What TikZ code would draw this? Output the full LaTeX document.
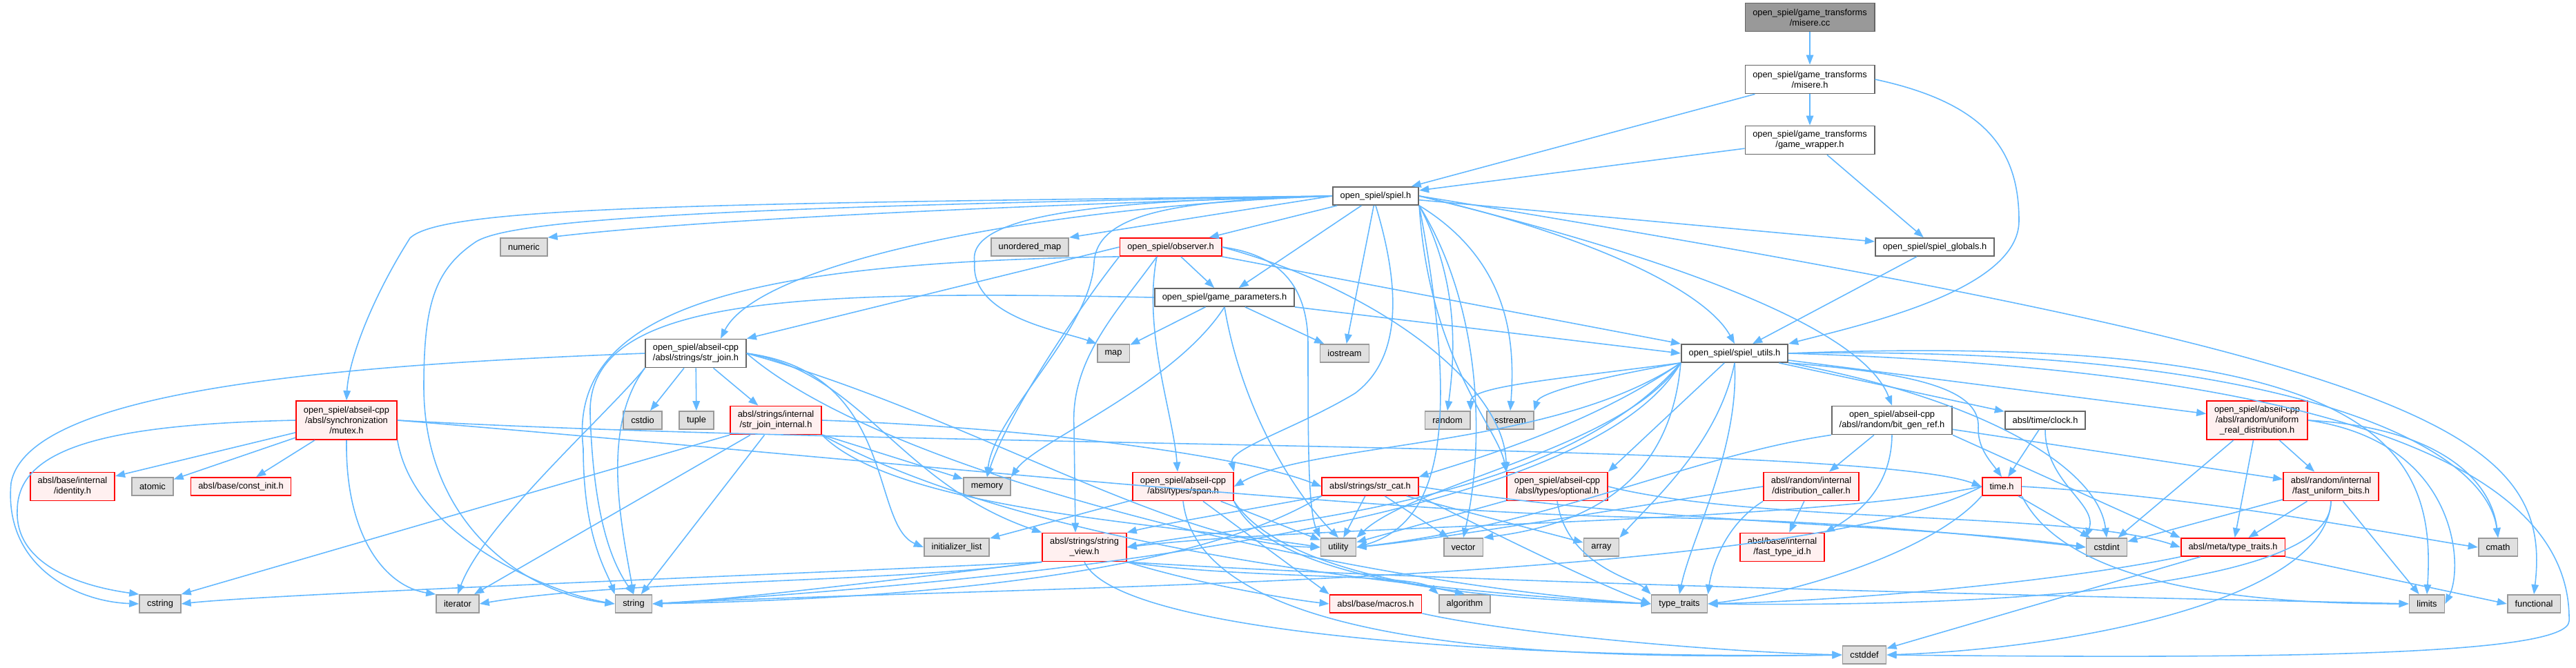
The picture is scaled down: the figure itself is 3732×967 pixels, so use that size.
\documentclass[tikz,border=0pt]{standalone}
\usepackage{fontspec}
\setmainfont{Liberation Sans}
\usetikzlibrary{positioning, arrows.meta}
\definecolor{edgeblue}{HTML}{63B8FF}
\definecolor{badfill}{HTML}{FFF0F0}
\definecolor{sysfill}{HTML}{E0E0E0}
\definecolor{sysdraw}{HTML}{999999}
\definecolor{filedraw}{HTML}{666666}

\begin{document}
\begin{tikzpicture}[
        x=0.02cm, y=-0.02cm,
        file/.style={
            rectangle,
            draw=filedraw,
            fill=white,
            line width=1pt,
            align=center,
            font=\fontsize{7.3}{8.5}\selectfont,
            inner xsep=6.2pt,
            inner ysep=1pt,
            minimum height=0.52cm
        },
        bad/.style={file, draw=red, fill=badfill},
        sys/.style={file, draw=sysdraw, fill=sysfill},
        root/.style={file, fill=sysdraw},
        two/.style={minimum height=0.82cm},
        three/.style={minimum height=1.12cm},
        arrow/.style={
            -{Triangle[length=8pt,width=6pt]},
            line width=0.9pt,
            draw=edgeblue
        }
    ]
        \useasboundingbox (0,0) rectangle (3732,967);

        \node [root, two] (misere_cc) at (2622,25) {open\_spiel/game\_transforms\\/misere.cc};
        \node [file, two] (misere_h) at (2622,115) {open\_spiel/game\_transforms\\/misere.h};
        \node [file, two] (game_wrapper_h) at (2622,203) {open\_spiel/game\_transforms\\/game\_wrapper.h};
        \node [file] (spiel_h) at (1993,284) {open\_spiel/spiel.h};
        \node [sys] (numeric) at (759,358) {numeric};
        \node [sys] (unordered_map) at (1492,358) {unordered\_map};
        \node [bad] (observer_h) at (1696,358) {open\_spiel/observer.h};
        \node [file] (spiel_globals_h) at (2803,358) {open\_spiel/spiel\_globals.h};
        \node [file] (game_parameters_h) at (1774,431) {open\_spiel/game\_parameters.h};
        \node [sys] (map) at (1613,512) {map};
        \node [sys] (iostream) at (1948,512) {iostream};
        \node [file, two] (str_join_h) at (1008,512) {open\_spiel/abseil-cpp\\/absl/strings/str\_join.h};
        \node [file] (spiel_utils_h) at (2513,512) {open\_spiel/spiel\_utils.h};
        \node [bad, three] (mutex_h) at (502,609) {open\_spiel/abseil-cpp\\/absl/synchronization\\/mutex.h};
        \node [sys] (cstdio) at (931,609) {cstdio};
        \node [sys] (tuple) at (1009,609) {tuple};
        \node [bad, two] (str_join_internal_h) at (1124,609) {absl/strings/internal\\/str\_join\_internal.h};
        \node [sys] (random) at (2097,609) {random};
        \node [sys] (sstream) at (2188,609) {sstream};
        \node [file, two] (bit_gen_ref_h) at (2741,609) {open\_spiel/abseil-cpp\\/absl/random/bit\_gen\_ref.h};
        \node [file] (clock_h) at (2963,609) {absl/time/clock.h};
        \node [bad, three] (uniform_real_h) at (3270,609) {open\_spiel/abseil-cpp\\/absl/random/uniform\\ \_real\_distribution.h};
        \node [bad, two] (identity_h) at (105,705) {absl/base/internal\\/identity.h};
        \node [sys] (atomic) at (221,705) {atomic};
        \node [bad] (const_init_h) at (349,705) {absl/base/const\_init.h};
        \node [sys] (memory) at (1430,705) {memory};
        \node [bad, two] (span_h) at (1714,705) {open\_spiel/abseil-cpp\\/absl/types/span.h};
        \node [bad] (str_cat_h) at (1985,705) {absl/strings/str\_cat.h};
        \node [bad, two] (optional_h) at (2256,705) {open\_spiel/abseil-cpp\\/absl/types/optional.h};
        \node [bad, two] (distribution_caller_h) at (2624,705) {absl/random/internal\\/distribution\_caller.h};
        \node [bad] (time_h) at (2900,705) {time.h};
        \node [bad, two] (fast_uniform_bits_h) at (3377,705) {absl/random/internal\\/fast\_uniform\_bits.h};
        \node [sys] (initializer_list) at (1386,793) {initializer\_list};
        \node [bad, two] (string_view_h) at (1571,793) {absl/strings/string\\ \_view.h};
        \node [sys] (utility) at (1939,793) {utility};
        \node [sys] (vector) at (2120,793) {vector};
        \node [sys] (array) at (2320,793) {array};
        \node [bad, two] (fast_type_id_h) at (2582,793) {absl/base/internal\\/fast\_type\_id.h};
        \node [sys] (cstdint) at (3052,793) {cstdint};
        \node [bad] (meta_type_traits_h) at (3235,793) {absl/meta/type\_traits.h};
        \node [sys] (cmath) at (3619,793) {cmath};
        \node [sys] (cstring) at (232,875) {cstring};
        \node [sys] (iterator) at (663,875) {iterator};
        \node [sys] (string) at (918,875) {string};
        \node [bad] (macros_h) at (1993,875) {absl/base/macros.h};
        \node [sys] (algorithm) at (2122,875) {algorithm};
        \node [sys] (type_traits) at (2433,875) {type\_traits};
        \node [sys] (limits) at (3516,875) {limits};
        \node [sys] (functional) at (3671,875) {functional};
        \node [sys] (cstddef) at (2701,949) {cstddef};

        \draw [arrow] (misere_cc) -- (misere_h);
        \draw [arrow] (misere_h) -- (game_wrapper_h);
        \draw [arrow] (misere_h) -- (spiel_h);
        \draw [arrow] (misere_h.east) .. controls (2880,150) and (2925,220) .. (2925,320) .. controls (2925,420) and (2700,470) .. (spiel_utils_h.north east);
        \draw [arrow] (game_wrapper_h) -- (spiel_h);
        \draw [arrow] (game_wrapper_h) -- (spiel_globals_h);
        \draw [arrow] (spiel_globals_h) -- (spiel_utils_h);

        \draw [arrow] (spiel_h.west) .. controls (1400,300) and (1000,320) .. (numeric.north east);
        \draw [arrow] (spiel_h.west) -- (unordered_map.north east);
        \draw [arrow] (spiel_h) -- (observer_h);
        \draw [arrow] (spiel_h) -- (game_parameters_h);
        \draw [arrow] (spiel_h.west) .. controls (1600,290) and (1400,310) .. (1412,380) .. controls (1405,460) and (1540,480) .. (map.north west);
        \draw [arrow] (spiel_h) -- (iostream);
        \draw [arrow] (spiel_h.south east) .. controls (2110,400) and (2110,500) .. (random.north);
        \draw [arrow] (spiel_h.south east) .. controls (2190,380) and (2195,500) .. (sstream.north);
        \draw [arrow] (spiel_h) -- (spiel_globals_h);
        \draw [arrow] (spiel_h.east) .. controls (2300,340) and (2470,420) .. (spiel_utils_h.north);
        \draw [arrow] (spiel_h.east) .. controls (2450,380) and (2700,480) .. (bit_gen_ref_h.north);
        \draw [arrow] (spiel_h.east) .. controls (3500,520) and (3700,620) .. (functional.north);
        \draw [arrow] (spiel_h.west) .. controls (1500,300) and (1100,380) .. ([xshift=0.72cm]str_join_h.north);
        \draw [arrow] (spiel_h.west) .. controls (1000,295) and (640,300) .. (594,345) .. controls (540,430) and (505,520) .. (mutex_h.north);
        \draw [arrow] (spiel_h.west) .. controls (1000,300) and (740,320) .. (690,350) .. controls (630,390) and (614,440) .. (614,560) .. controls (614,760) and (760,860) .. (string.west);
        \draw [arrow] (spiel_h.west) .. controls (1700,290) and (1590,310) .. (1585,380) .. controls (1580,480) and (1440,600) .. (memory.north);
        \draw [arrow] (spiel_h.south) .. controls (2030,420) and (2030,520) .. (1963,570) .. controls (1880,620) and (1780,650) .. (span_h.north east);
        \draw [arrow] (spiel_h.south east) .. controls (2070,520) and (2170,620) .. (optional_h.north west);
        \draw [arrow] (spiel_h.south east) .. controls (2120,640) and (2080,760) .. (utility.east);
        \draw [arrow] (spiel_h.south east) .. controls (2150,450) and (2150,650) .. (vector.north);

        \draw [arrow] (observer_h) -- (game_parameters_h);
        \draw [arrow] (observer_h.south east) -- (spiel_utils_h.north west);
        \draw [arrow] (observer_h.west) -- (str_join_h.north east);
        \draw [arrow] (observer_h.south west) .. controls (1560,450) and (1460,600) .. (memory.north);
        \draw [arrow] ([xshift=-0.4cm]observer_h.south) .. controls (1620,450) and (1550,520) .. (1556,620) -- ([xshift=-0.26cm]string_view_h.north);
        \draw [arrow] ([xshift=-0.4cm]observer_h.south) .. controls (1655,480) and (1700,600) .. ([xshift=-0.16cm]span_h.north);
        \draw [arrow] (observer_h.east) .. controls (1860,370) and (1895,420) .. (1895,500) .. controls (1895,640) and (1895,740) .. (utility.north west);
        \draw [arrow] (observer_h.east) .. controls (2000,420) and (2180,560) .. (optional_h.north west);
        \draw [arrow] (observer_h.south west) .. controls (1100,380) and (820,440) .. (845,650) .. controls (845,780) and (880,830) .. (string.north west);

        \draw [arrow] (game_parameters_h) -- (map);
        \draw [arrow] (game_parameters_h) -- (iostream);
        \draw [arrow] (game_parameters_h.south east) -- (spiel_utils_h.west);
        \draw [arrow] (game_parameters_h.south) .. controls (1700,560) and (1500,640) .. (memory.north east);
        \draw [arrow] (game_parameters_h.west) .. controls (1150,420) and (850,430) .. (855,600) .. controls (860,760) and (890,820) .. (string.north);
        \draw [arrow] (game_parameters_h.south) .. controls (1800,600) and (1880,720) .. (utility.north);

        \draw [arrow] (str_join_h) -- (cstdio);
        \draw [arrow] (str_join_h) -- (tuple);
        \draw [arrow] (str_join_h) -- (str_join_internal_h);
        \draw [arrow] (str_join_h.west) .. controls (450,530) and (40,570) .. (16,700) .. controls (5,820) and (110,872) .. (cstring.west);
        \draw [arrow] (str_join_h.south west) .. controls (880,600) and (700,760) .. (iterator.north);
        \draw [arrow] (str_join_h.south west) .. controls (870,620) and (900,760) .. (string.north);
        \draw [arrow] (str_join_h.east) .. controls (1300,540) and (1260,760) .. (initializer_list.west);
        \draw [arrow] (str_join_h.east) .. controls (1400,600) and (1700,790) .. (utility.west);
        \draw [arrow] (str_join_h.east) .. controls (1300,700) and (2000,850) .. (type_traits.west);
        \draw [arrow] (str_join_h.east) .. controls (1250,540) and (1300,700) .. (string_view_h.north west);

        \draw [arrow] (mutex_h) -- (identity_h);
        \draw [arrow] (mutex_h) -- (atomic);
        \draw [arrow] (mutex_h) -- (const_init_h);
        \draw [arrow] (mutex_h.west) .. controls (150,615) and (25,650) .. (25,740) .. controls (22,820) and (120,850) .. (cstring.north west);
        \draw [arrow] (mutex_h.south) .. controls (500,780) and (560,850) .. (iterator.north west);
        \draw [arrow] (mutex_h.south east) .. controls (600,780) and (800,860) .. (string.west);
        \draw [arrow] (mutex_h.east) .. controls (1300,650) and (2700,640) .. (time_h.west);
        \draw [arrow] (mutex_h.east) .. controls (1200,660) and (2000,745) .. (2400,750) .. controls (2700,755) and (2900,780) .. (cstdint.west);

        \draw [arrow] (str_join_internal_h.south west) -- (cstring.north east);
        \draw [arrow] (str_join_internal_h) -- (iterator);
        \draw [arrow] (str_join_internal_h) -- (string);
        \draw [arrow] (str_join_internal_h) -- (memory);
        \draw [arrow] (str_join_internal_h.east) .. controls (1500,620) and (1800,660) .. (str_cat_h.west);
        \draw [arrow] (str_join_internal_h.south east) .. controls (1300,740) and (1700,760) .. (utility.west);
        \draw [arrow] (str_join_internal_h.south east) .. controls (1500,800) and (2100,860) .. (type_traits.west);

        \draw [arrow] (spiel_utils_h.south west) .. controls (2250,550) and (2130,560) .. (random.north east);
        \draw [arrow] (spiel_utils_h.south west) .. controls (2300,550) and (2230,570) .. (sstream.north east);
        \draw [arrow] (spiel_utils_h.south west) .. controls (2300,620) and (2120,670) .. (str_cat_h.north east);
        \draw [arrow] (spiel_utils_h.south west) .. controls (2250,650) and (1900,640) .. (span_h.east);
        \draw [arrow] (spiel_utils_h) -- (optional_h.north east);
        \draw [arrow] (spiel_utils_h.south east) .. controls (2760,540) and (2870,560) .. (2866,620) .. controls (2865,650) and (2885,670) .. (time_h.north);
        \draw [arrow] (spiel_utils_h) -- (clock_h);
        \draw [arrow] (spiel_utils_h) -- (uniform_real_h);
        \draw [arrow] (spiel_utils_h.south east) .. controls (2880,580) and (3040,680) .. (cstdint.north);
        \draw [arrow] (spiel_utils_h.east) .. controls (3300,500) and (3600,640) .. (cmath.north);
        \draw [arrow] (spiel_utils_h.east) .. controls (3450,480) and (3530,650) .. (limits.north);
        \draw [arrow] (spiel_utils_h.east) .. controls (3500,540) and (3725,720) .. (3722,900) .. controls (3720,950) and (3300,955) .. (cstddef.east);
        \draw [arrow] (spiel_utils_h.south) .. controls (2520,650) and (2450,780) .. (type_traits.north);
        \draw [arrow] (spiel_utils_h.south west) .. controls (2350,650) and (2050,700) .. (utility.north east);
        \draw [arrow] (spiel_utils_h.south west) .. controls (2420,700) and (2300,760) .. (vector.north east);
        \draw [arrow] (spiel_utils_h.south) .. controls (2490,640) and (2400,720) .. (array.north east);
        \draw [arrow] (spiel_utils_h.south west) .. controls (2300,760) and (1500,840) .. (string.east);
        \draw [arrow] (spiel_utils_h.south west) .. controls (2250,740) and (1800,760) .. (string_view_h.east);

        \draw [arrow] (bit_gen_ref_h) -- (distribution_caller_h);
        \draw [arrow] (bit_gen_ref_h.south) .. controls (2740,700) and (2700,740) .. (fast_type_id_h.north east);
        \draw [arrow] (bit_gen_ref_h) -- (fast_uniform_bits_h);
        \draw [arrow] (bit_gen_ref_h.south east) -- (meta_type_traits_h.north west);
        \draw [arrow] (bit_gen_ref_h.south west) .. controls (2450,660) and (2250,760) .. (utility.east);

        \draw [arrow] (clock_h) -- (time_h);
        \draw [arrow] (clock_h.south) .. controls (2963,700) and (3040,730) .. (cstdint.north west);

        \draw [arrow] (uniform_real_h) -- (fast_uniform_bits_h);
        \draw [arrow] (uniform_real_h) -- (meta_type_traits_h);
        \draw [arrow] (uniform_real_h) -- (cstdint);
        \draw [arrow] (uniform_real_h.east) .. controls (3540,620) and (3610,700) .. (cmath.north);
        \draw [arrow] (uniform_real_h.east) .. controls (3560,640) and (3570,820) .. (limits.east);

        \draw [arrow] (span_h) -- (initializer_list);
        \draw [arrow] (span_h) -- (macros_h.north west);
        \draw [arrow] (span_h.south east) .. controls (1850,820) and (2050,845) .. (algorithm.north);
        \draw [arrow] (span_h.south) .. controls (1740,950) and (2300,955) .. (cstddef.west);
        \draw [arrow] (span_h.south east) .. controls (1850,860) and (2250,870) .. (type_traits.west);
        \draw [arrow] (span_h) -- (utility);

        \draw [arrow] (str_cat_h.south west) .. controls (1800,740) and (1680,760) .. (string_view_h.north east);
        \draw [arrow] (str_cat_h) -- (utility);
        \draw [arrow] (str_cat_h) -- (vector);
        \draw [arrow] (str_cat_h) -- (array);
        \draw [arrow] (str_cat_h.east) .. controls (2400,760) and (2800,760) .. (cstdint.west);
        \draw [arrow] (str_cat_h.south west) .. controls (1700,850) and (1200,870) .. (string.east);
        \draw [arrow] (str_cat_h.south east) .. controls (2180,780) and (2300,840) .. (type_traits.west);

        \draw [arrow] (optional_h) -- (utility);
        \draw [arrow] (optional_h.south) .. controls (2270,820) and (2370,840) .. (type_traits.north west);
        \draw [arrow] (optional_h.east) .. controls (2550,760) and (3000,740) .. (meta_type_traits_h.west);

        \draw [arrow] (distribution_caller_h) -- (fast_type_id_h);
        \draw [arrow] (distribution_caller_h.west) .. controls (2450,720) and (2100,780) .. (utility.east);
        \draw [arrow] (distribution_caller_h.south west) .. controls (2500,760) and (2480,820) .. (type_traits.north east);

        \draw [arrow] (time_h) -- (cstdint);
        \draw [arrow] (time_h.east) .. controls (3200,720) and (3500,780) .. (cmath.west);
        \draw [arrow] (time_h.west) .. controls (2600,850) and (1400,850) .. (string.east);
        \draw [arrow] (time_h.west) .. controls (2600,760) and (1900,760) .. (string_view_h.east);
        \draw [arrow] (time_h.south east) .. controls (3000,860) and (3300,875) .. (limits.west);
        \draw [arrow] (time_h.south west) .. controls (2800,800) and (2600,860) .. (type_traits.east);

        \draw [arrow] (fast_uniform_bits_h) -- (cstdint);
        \draw [arrow] (fast_uniform_bits_h) -- (meta_type_traits_h);
        \draw [arrow] (fast_uniform_bits_h) -- (limits);
        \draw [arrow] (fast_uniform_bits_h.south) .. controls (3380,850) and (2900,880) .. (type_traits.east);
        \draw [arrow] (fast_uniform_bits_h.south) .. controls (3370,870) and (3000,940) .. (cstddef.east);

        \draw [arrow] (string_view_h.south east) .. controls (1800,840) and (2050,830) .. (algorithm.north west);
        \draw [arrow] (string_view_h.south) .. controls (1620,920) and (2200,955) .. (cstddef.west);
        \draw [arrow] (string_view_h.south west) .. controls (1200,830) and (400,860) .. (cstring.east);
        \draw [arrow] (string_view_h.south west) .. controls (1300,845) and (900,840) .. (iterator.east);
        \draw [arrow] (string_view_h.south east) .. controls (2200,850) and (3300,870) .. (limits.west);
        \draw [arrow] (string_view_h.south west) .. controls (1300,840) and (1050,870) .. (string.east);
        \draw [arrow] (string_view_h.south east) .. controls (1750,850) and (1880,870) .. (macros_h.west);

        \draw [arrow] (meta_type_traits_h) -- (cstddef);
        \draw [arrow] (meta_type_traits_h.south east) -- (functional.west);
        \draw [arrow] (meta_type_traits_h.south west) .. controls (3000,840) and (2700,870) .. (type_traits.east);

        \draw [arrow] (macros_h.south east) .. controls (2200,920) and (2500,945) .. (cstddef.west);
    \end{tikzpicture}
\end{document}
